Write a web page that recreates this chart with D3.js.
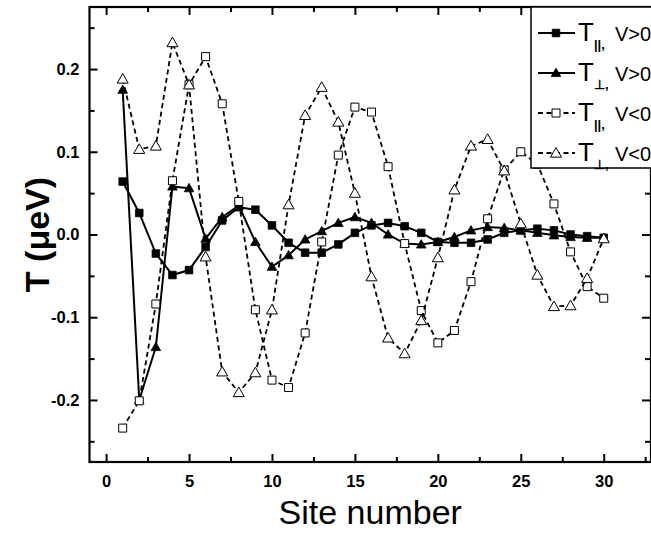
<!DOCTYPE html>
<html>
<head>
  <meta charset="utf-8">
  <script src="https://d3js.org/d3.v7.min.js"></script>
  <style>
    body { margin: 0; background: #fff; }
    svg { display: block; font-family: "Liberation Sans", Arial, sans-serif; }
    .tick-label { font-size: 16.5px; font-weight: bold; fill: #000; }
  </style>
</head>
<body>
  <div id="chart"></div>
  <script>
    // Site numbers along the x axis
    const sites = [1, 2, 3, 4, 5, 6, 7, 8, 9, 10, 11, 12, 13, 14, 15,
                   16, 17, 18, 19, 20, 21, 22, 23, 24, 25, 26, 27, 28, 29, 30];

    // T parallel, V>0 (filled squares)
    const tParPos = [0.064, 0.026, -0.023, -0.049, -0.043, -0.015, 0.017, 0.033, 0.030, 0.011,
                     -0.010, -0.022, -0.022, -0.012, 0.002, 0.011, 0.014, 0.010, 0.002, -0.009,
                     -0.010, -0.010, -0.006, 0.002, 0.005, 0.007, 0.005, 0.000, -0.002, -0.004];
    // T perpendicular, V>0 (filled triangles)
    const tPerpPos = [0.175, -0.200, -0.136, 0.058, 0.056, -0.005, 0.021, 0.035, -0.009, -0.039,
                      -0.025, -0.006, 0.004, 0.014, 0.021, 0.014, 0.000, -0.011, -0.012, -0.009,
                      -0.003, 0.005, 0.009, 0.008, 0.005, 0.002, -0.001, -0.003, -0.004, -0.004];
    // T parallel, V<0 (open squares)
    const tParNeg = [-0.234, -0.201, -0.084, 0.065, 0.181, 0.215, 0.158, 0.040, -0.091, -0.176,
                     -0.185, -0.119, -0.009, 0.096, 0.154, 0.148, 0.082, -0.011, -0.092, -0.131,
                     -0.116, -0.057, 0.019, 0.078, 0.100, 0.085, 0.037, -0.021, -0.063, -0.077];
    // T perpendicular, V<0 (open triangles)
    const tPerpNeg = [0.188, 0.103, 0.107, 0.232, 0.181, -0.027, -0.166, -0.191, -0.167, -0.091,
                      0.036, 0.144, 0.178, 0.136, 0.050, -0.051, -0.125, -0.144, -0.104, -0.028,
                      0.054, 0.107, 0.115, 0.077, 0.013, -0.049, -0.087, -0.086, -0.053, -0.005];

    const xTicks = [0, 5, 10, 15, 20, 25, 30];
    const xMinorTicks = [2.5, 7.5, 12.5, 17.5, 22.5, 27.5, 32.5];
    const yTicks = [-0.2, -0.1, 0.0, 0.1, 0.2];
    const yMinorTicks = [-0.25, -0.15, -0.05, 0.05, 0.15, 0.25];

    const legendSubs = ["||", "\u22A5", "||", "\u22A5"];
    const legendSigns = ["V>0", "V>0", "V<0", "V<0"];

    const W = 651, H = 537;
    const plot = { left: 89.5, right: 651, top: 7, bottom: 462 };

    const svg = d3.select("#chart")
      .append("svg")
      .attr("width", W)
      .attr("height", H);

    const x = d3.scaleLinear().domain([-1, 32.85]).range([plot.left, plot.right]);
    const y = d3.scaleLinear().domain([-0.275, 0.275]).range([plot.bottom, plot.top]);

    // axes with inward ticks
    function styleAxis(g) {
      g.select(".domain").remove();
      g.selectAll(".tick line").attr("stroke", "#000").attr("stroke-width", 2);
      g.selectAll(".tick text").attr("class", "tick-label").attr("font-family", null).attr("font-size", null);
    }
    const yFormat = d => d3.format(".1f")(d).replace("\u2212", "-");

    svg.append("g")
      .attr("transform", `translate(0,${plot.bottom})`)
      .call(d3.axisBottom(x).tickValues(xTicks).tickSize(-8).tickPadding(13).tickFormat(d3.format("d")))
      .call(styleAxis);
    svg.append("g")
      .attr("transform", `translate(0,${plot.bottom})`)
      .call(d3.axisBottom(x).tickValues(xMinorTicks).tickSize(-5).tickFormat(""))
      .call(styleAxis);
    svg.append("g")
      .attr("transform", `translate(0,${plot.top})`)
      .call(d3.axisTop(x).tickValues(xTicks).tickSize(-8).tickFormat(""))
      .call(styleAxis);
    svg.append("g")
      .attr("transform", `translate(0,${plot.top})`)
      .call(d3.axisTop(x).tickValues(xMinorTicks).tickSize(-5).tickFormat(""))
      .call(styleAxis);

    svg.append("g")
      .attr("transform", `translate(${plot.left},0)`)
      .call(d3.axisLeft(y).tickValues(yTicks).tickSize(-8).tickPadding(10).tickFormat(yFormat))
      .call(styleAxis);
    svg.append("g")
      .attr("transform", `translate(${plot.left},0)`)
      .call(d3.axisLeft(y).tickValues(yMinorTicks).tickSize(-5).tickFormat(""))
      .call(styleAxis);
    svg.append("g")
      .attr("transform", `translate(${plot.right - 1},0)`)
      .call(d3.axisRight(y).tickValues(yTicks).tickSize(-8).tickFormat(""))
      .call(styleAxis);
    svg.append("g")
      .attr("transform", `translate(${plot.right - 1},0)`)
      .call(d3.axisRight(y).tickValues(yMinorTicks).tickSize(-5).tickFormat(""))
      .call(styleAxis);

    // frame
    svg.append("rect")
      .attr("x", plot.left)
      .attr("y", plot.top)
      .attr("width", plot.right - plot.left)
      .attr("height", plot.bottom - plot.top)
      .attr("fill", "none")
      .attr("stroke", "#000")
      .attr("stroke-width", 2.2);

    // axis titles
    svg.append("text")
      .attr("x", (plot.left + plot.right) / 2)
      .attr("y", 524)
      .attr("text-anchor", "middle")
      .attr("font-size", 34)
      .text("Site number");

    svg.append("text")
      .attr("transform", `translate(49,${y(0)}) rotate(-90)`)
      .attr("text-anchor", "middle")
      .attr("font-size", 34)
      .attr("font-weight", 600)
      .text("T (\u03BCeV)");

    // series
    const series = [
      { values: tParPos, marker: "square", filled: true, dashed: false },
      { values: tPerpPos, marker: "triangle", filled: true, dashed: false },
      { values: tParNeg, marker: "square", filled: false, dashed: true },
      { values: tPerpNeg, marker: "triangle", filled: false, dashed: true }
    ];

    const line = d3.line()
      .x(d => x(d.site))
      .y(d => y(d.v));

    function markerPath(s) {
      if (s.marker === "square") {
        const h = s.filled ? 3.8 : 4;
        return `M${-h},${-h}H${h}V${h}H${-h}Z`;
      }
      const r = s.filled ? 4.8 : 5.5;
      return `M0,${-r}L${r},${r * 0.75}L${-r},${r * 0.75}Z`;
    }

    series.forEach(s => {
      const pts = sites.map((site, i) => ({ site, v: s.values[i] }));
      svg.append("path")
        .datum(pts)
        .attr("fill", "none")
        .attr("stroke", "#000")
        .attr("stroke-width", s.dashed ? 1.8 : 2)
        .attr("stroke-dasharray", s.dashed ? "5,3.5" : null)
        .attr("d", line);
      svg.append("g")
        .selectAll("path")
        .data(pts)
        .join("path")
        .attr("transform", d => `translate(${x(d.site)},${y(d.v)})`)
        .attr("d", markerPath(s))
        .attr("fill", s.filled ? "#000" : "#fff")
        .attr("stroke", "#000")
        .attr("stroke-width", s.filled ? 0.8 : 1);
    });

    // legend
    const legend = svg.append("g");
    legend.append("rect")
      .attr("x", 531)
      .attr("y", plot.top)
      .attr("width", 130)
      .attr("height", 161)
      .attr("fill", "#fff")
      .attr("stroke", "#000")
      .attr("stroke-width", 1.5);

    series.forEach((s, i) => {
      const cy = 33 + i * 40;
      legend.append("line")
        .attr("x1", 538).attr("x2", 575)
        .attr("y1", cy).attr("y2", cy)
        .attr("stroke", "#000")
        .attr("stroke-width", s.dashed ? 1.8 : 2)
        .attr("stroke-dasharray", s.dashed ? "5,3.5" : null);
      legend.append("path")
        .attr("transform", `translate(556,${cy})`)
        .attr("d", markerPath(s))
        .attr("fill", s.filled ? "#000" : "#fff")
        .attr("stroke", "#000")
        .attr("stroke-width", s.filled ? 0.8 : 1);
      const t = legend.append("text")
        .attr("x", 578)
        .attr("y", cy + 8);
      t.append("tspan").attr("font-size", 26).text("T");
      t.append("tspan").attr("font-size", 13).attr("dy", 8).attr("font-weight", "bold").text(legendSubs[i] + ",");
      t.append("tspan").attr("font-size", 20).attr("x", 615).attr("dy", -8).text(legendSigns[i]);
    });
  </script>
</body>
</html>
